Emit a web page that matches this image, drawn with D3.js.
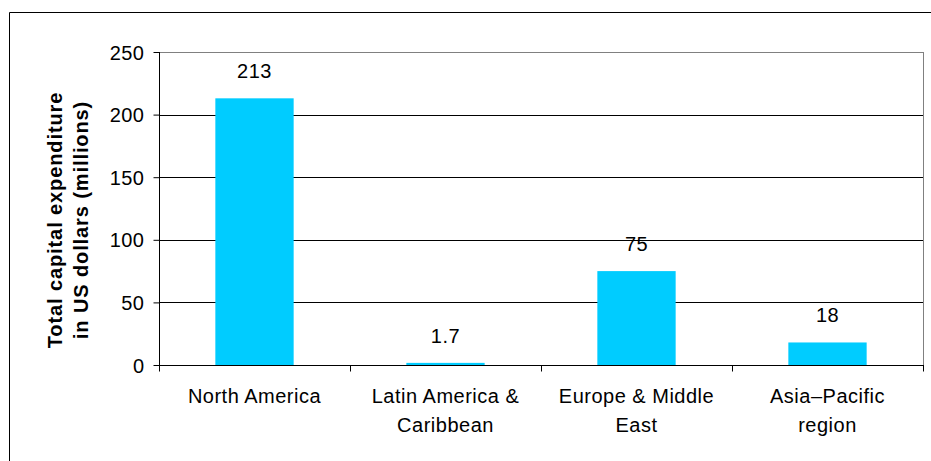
<!DOCTYPE html>
<html><head><meta charset="utf-8">
<script src="https://cdn.jsdelivr.net/npm/d3@7"></script>
<style>body{margin:0;background:#fff}svg{display:block;font-family:"Liberation Sans",Arial,sans-serif}</style>
</head><body><svg id="c" width="931" height="461"></svg>
<script>
const categories = [["North America"], ["Latin America &", "Caribbean"], ["Europe & Middle", "East"], ["Asia\u2013Pacific", "region"]];
const values = [213, 1.7, 75, 18];
const valueLabels = ["213", "1.7", "75", "18"];
const yTicks = [0, 50, 100, 150, 200, 250];
const yTitle = ["Total capital expenditure", "in US dollars (millions)"];

const svg = d3.select("#c");
const L = 159, R = 923, T = 52, B = 365;
const FS = 20, LS = 0.5;
// outer frame
svg.append("path").attr("d", "M9.5,461V12.5H931").attr("fill","none").attr("stroke","#000").attr("stroke-width",1);

const keys = categories.map((c,i)=>i);
const x = d3.scaleBand().domain(keys).range([L,R]).paddingInner(0.59).paddingOuter(0.295);
const xb = d3.scaleBand().domain(keys).range([L,R]);
const y = d3.scaleLinear().domain([0,250]).range([B,T]);

// gridlines
svg.append("g").selectAll("line").data(yTicks.filter(v=>v>0)).join("line")
  .attr("x1",L).attr("x2",R).attr("y1",d=>Math.round(y(d))+0.5).attr("y2",d=>Math.round(y(d))+0.5)
  .attr("stroke",d=>d===250?"#808080":"#000").attr("stroke-width",1);
// plot right border
svg.append("line").attr("x1",R+0.5).attr("x2",R+0.5).attr("y1",T).attr("y2",B).attr("stroke","#808080");

// bars
svg.append("g").selectAll("rect").data(values).join("rect")
  .attr("x",(d,i)=>x(i)).attr("width",x.bandwidth())
  .attr("y",d=>y(d)).attr("height",d=>B-y(d)).attr("fill","#00CCFF");

// value labels
svg.append("g").selectAll("text").data(values).join("text")
  .attr("x",(d,i)=>x(i)+x.bandwidth()/2).attr("y",d=>y(d)-20)
  .attr("text-anchor","middle").attr("font-size",FS).attr("letter-spacing",LS).attr("fill","#000")
  .text((d,i)=>valueLabels[i]);

// y axis
const ya = svg.append("g").attr("transform",`translate(${L+0.5},0)`)
  .call(d3.axisLeft(y).tickValues(yTicks).tickSize(6).tickPadding(9));
ya.selectAll("text").attr("font-size",FS).attr("letter-spacing",LS).attr("font-family","Liberation Sans, Arial, sans-serif").attr("fill","#000").attr("dy","0.35em");
ya.selectAll("line,path").attr("stroke","#000");
ya.select(".domain").attr("d",`M0,${T}V${B+0.5}`);

// x axis
const xa = svg.append("g").attr("transform",`translate(0,${B+0.5})`);
xa.append("line").attr("x1",L).attr("x2",R+1).attr("stroke","#000");
xa.selectAll(".tk").data(d3.range(categories.length+1)).join("line").attr("class","tk")
  .attr("x1",d=>Math.round(d<categories.length?xb(d):R)+0.5).attr("x2",d=>Math.round(d<categories.length?xb(d):R)+0.5)
  .attr("y1",0).attr("y2",6).attr("stroke","#000");
const xl = svg.append("g").selectAll("text").data(categories).join("text")
  .attr("text-anchor","middle").attr("font-size",FS).attr("letter-spacing",LS).attr("fill","#000")
  .attr("transform",(d,i)=>`translate(${xb(i)+xb.bandwidth()/2},${B+38})`);
xl.selectAll("tspan").data(d=>d).join("tspan").attr("x",0).attr("dy",(d,j)=>j===0?0:29).text(d=>d);

// y title
const yt = svg.append("text").attr("transform","translate(62,220) rotate(-90)")
  .attr("text-anchor","middle").attr("font-size",FS).attr("letter-spacing",0.9).attr("font-weight","bold").attr("fill","#000");
yt.selectAll("tspan").data(yTitle).join("tspan").attr("x",0).attr("dy",(d,j)=>j===0?0:26).text(d=>d);
</script></body></html>
